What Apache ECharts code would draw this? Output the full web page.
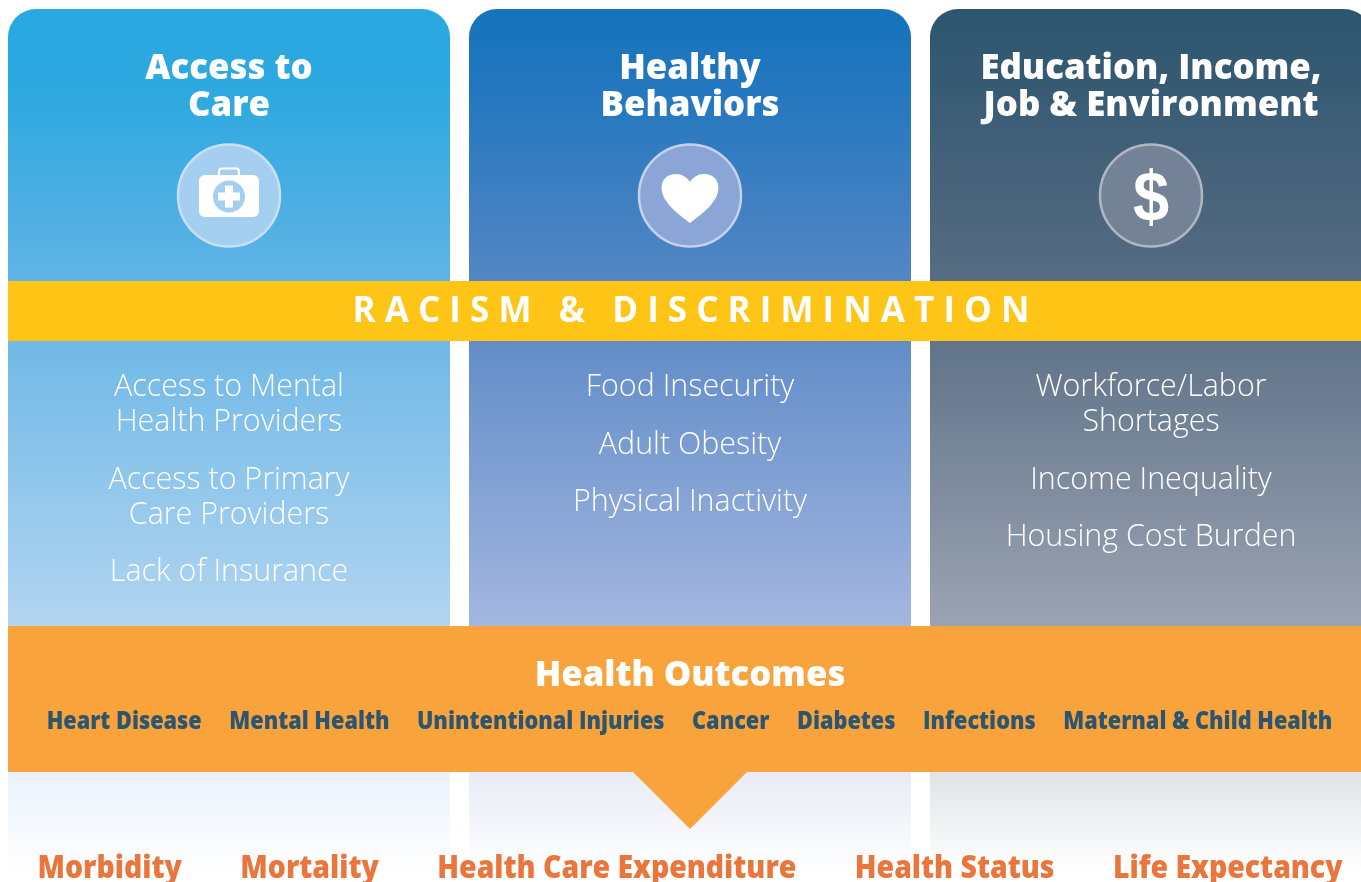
<!DOCTYPE html>
<html>
<head>
<meta charset="utf-8">
<title>Health Outcomes</title>
<script src="https://cdn.jsdelivr.net/npm/echarts@6/dist/echarts.min.js"></script>
<style>
html, body { margin: 0; padding: 0; background: #fff; overflow: hidden; }
#main { width: 1361px; height: 882px; }
</style>
</head>
<body>
<div id="main"></div>
<script>
var columnTitles = ['Access to\nCare', 'Healthy\nBehaviors', 'Education, Income,\nJob & Environment']
var columnFactors = [
  ['Access to Mental\nHealth Providers', 'Access to Primary\nCare Providers', 'Lack of Insurance'],
  ['Food Insecurity', 'Adult Obesity', 'Physical Inactivity'],
  ['Workforce/Labor\nShortages', 'Income Inequality', 'Housing Cost Burden']
]
var bandLabel = 'R A C I S M   &   D I S C R I M I N A T I O N'
var outcomesTitle = 'Health Outcomes'
var outcomes = ['Heart Disease', 'Mental Health', 'Unintentional Injuries', 'Cancer', 'Diabetes', 'Infections', 'Maternal & Child Health']
var results = ['Morbidity', 'Mortality', 'Health Care Expenditure', 'Health Status', 'Life Expectancy']

// colours per column, from the top of the panel down; then foot and icon colours
var panelTop = ['#29a8e1', '#1573bc', '#2d556f']
var panelUpper = ['#2fa9e0', '#2678bf', '#3a5c75']
var panelMiddle = ['#68b5e6', '#5a88c5', '#5a6e84']
var panelBottom = ['#b2d5f0', '#a3b6df', '#9ba3b2']
var footTop = ['#eaf3fc', '#e8ebf6', '#e1e3e7']
var iconFill = ['#a5cff0', '#8ba5d6', '#748297']
var iconRing = ['#c9e0f4', '#c6d2ea', '#b0b7c3']

var FONT = '"Open Sans", sans-serif'
var measure = document.createElement('canvas').getContext('2d')

function grad(c1, c2) {
  return new echarts.graphic.LinearGradient(0, 0, 0, 1, [
    { offset: 0, color: c1 }, { offset: 1, color: c2 }
  ])
}

function panelGrad(i) {
  return new echarts.graphic.LinearGradient(0, 0, 0, 1, [
    { offset: 0, color: panelTop[i] },
    { offset: 0.15, color: panelUpper[i] },
    { offset: 0.48, color: panelMiddle[i] },
    { offset: 1, color: panelBottom[i] }
  ])
}

function whiteText(text, x, y, size, weight, lineHeight) {
  return {
    type: 'text', x: x, y: y,
    style: {
      text: text, fill: '#fff', align: 'center', verticalAlign: 'middle',
      fontFamily: FONT, fontSize: size, fontWeight: weight, lineHeight: lineHeight
    }
  }
}

function icon(i, cx, cy) {
  var out = [{
    type: 'circle',
    shape: { cx: cx, cy: cy, r: 51 },
    style: { fill: iconFill[i], stroke: iconRing[i], lineWidth: 2.5 }
  }]
  if (i === 0) {
    // first aid kit
    out.push({ type: 'rect', shape: { x: cx - 10, y: cy - 27, width: 20, height: 12, r: 3 }, style: { fill: 'none', stroke: '#fff', lineWidth: 2.2 } })
    out.push({ type: 'rect', shape: { x: cx - 30, y: cy - 20.5, width: 60, height: 42, r: 6 }, style: { fill: '#fff' } })
    out.push({ type: 'circle', shape: { cx: cx, cy: cy + 1, r: 16 }, style: { fill: iconFill[i] } })
    out.push({ type: 'rect', shape: { x: cx - 11, y: cy - 3, width: 22, height: 8 }, style: { fill: '#fff' } })
    out.push({ type: 'rect', shape: { x: cx - 4, y: cy - 10, width: 8, height: 22 }, style: { fill: '#fff' } })
  } else if (i === 1) {
    out.push({
      type: 'path',
      shape: {
        pathData: 'M50 86 C38 76 0 52 0 24 C0 9 11 0 25 0 C36 0 45 6 50 14 C55 6 64 0 75 0 C89 0 100 9 100 24 C100 52 62 76 50 86 Z',
        x: cx - 28.5, y: cy - 21.5, width: 57, height: 49
      },
      style: { fill: '#fff' }
    })
  } else {
    out.push({
      type: 'text', x: cx, y: cy + 6, scaleX: 0.93,
      style: { text: '$', fill: '#fff', align: 'center', verticalAlign: 'middle', fontFamily: 'Liberation Sans', fontWeight: 'bold', fontSize: 70 }
    })
  }
  return out
}

function renderColumn(params, api) {
  var i = api.value(0)
  var cx = api.coord([i, 0])[0]
  var w = api.size([1, 0])[0] - 19
  var x = cx - w / 2
  var top = api.coord([i, 9])[1]
  var panelEnd = api.coord([i, 626])[1]
  var footStart = api.coord([i, 772])[1]
  var footEnd = api.coord([i, 872])[1]
  var children = [
    { type: 'rect', shape: { x: x, y: top, width: w, height: panelEnd - top, r: [28, 28, 0, 0] }, style: { fill: panelGrad(i) } },
    { type: 'rect', shape: { x: x, y: footStart, width: w, height: footEnd - footStart }, style: { fill: grad(footTop[i], '#ffffff') } },
    whiteText(columnTitles[i], cx, api.coord([i, 87.5])[1], 34.8, 800, 37)
  ]
  children = children.concat(icon(i, cx, api.coord([i, 195.5])[1]))
  // factor lines stack downward from the yellow band
  var y = 387.5
  columnFactors[i].forEach(function (txt) {
    var lines = txt.split('\n').length
    children.push(whiteText(txt, cx, api.coord([i, y + (lines - 1) * 35 / 2])[1], 30.4, 350, 35))
    y += (lines - 1) * 35 + 57.5
  })
  return { type: 'group', children: children }
}

// spreads a row of labels, centred on cx, with an even gap between them
function textRow(labels, cx, y, gap, size, scaleX, fill) {
  var font = '800 ' + size + 'px ' + FONT
  measure.font = font
  var widths = labels.map(function (t) { return measure.measureText(t).width * scaleX })
  var total = widths.reduce(function (a, b) { return a + b }, 0) + gap * (labels.length - 1)
  var x = cx - total / 2
  return labels.map(function (t, k) {
    var el = {
      type: 'text', x: x, y: y, scaleX: scaleX, z: 12,
      style: { text: t, fill: fill, align: 'left', verticalAlign: 'middle', fontFamily: FONT, fontSize: size, fontWeight: 800 }
    }
    x += widths[k] + gap
    return el
  })
}

var myChart = echarts.init(document.getElementById('main'))
var W = 1361

var bands = [
  { type: 'rect', z: 10, shape: { x: 8, y: 281, width: W - 8, height: 60 }, style: { fill: '#fec516' } },
  { type: 'rect', z: 10, shape: { x: 8, y: 626, width: W - 8, height: 146 }, style: { fill: '#f9a33d' } },
  { type: 'polygon', z: 10, shape: { points: [[632, 771], [748, 771], [690, 829]] }, style: { fill: '#f9a33d' } },
  {
    type: 'text', z: 12, x: 691, y: 312,
    style: { text: bandLabel, fill: '#fff', align: 'center', verticalAlign: 'middle', fontFamily: FONT, fontSize: 35, fontWeight: 700 }
  },
  {
    type: 'text', z: 12, x: 690, y: 676.5,
    style: { text: outcomesTitle, fill: '#fff', align: 'center', verticalAlign: 'middle', fontFamily: FONT, fontSize: 34.7, fontWeight: 800 }
  }
].concat(textRow(outcomes, 689.5, 722, 27.5, 25, 0.868, '#2d556f'))
 .concat(textRow(results, 690, 869, 58.5, 31.5, 0.902, '#e9773d'))

myChart.setOption({
  animation: false,
  grid: { left: -1.5, width: 1383, top: 0, height: 882, outerBoundsMode: 'none' },
  xAxis: { type: 'category', data: columnTitles, show: false },
  yAxis: { type: 'value', min: 0, max: 882, inverse: true, show: false },
  graphic: bands,
  series: [{
    type: 'custom',
    clip: false,
    silent: true,
    renderItem: renderColumn,
    encode: { x: 0, y: 1 },
    data: columnTitles.map(function (t, i) { return [i, 0] })
  }]
})
</script>
</body>
</html>
